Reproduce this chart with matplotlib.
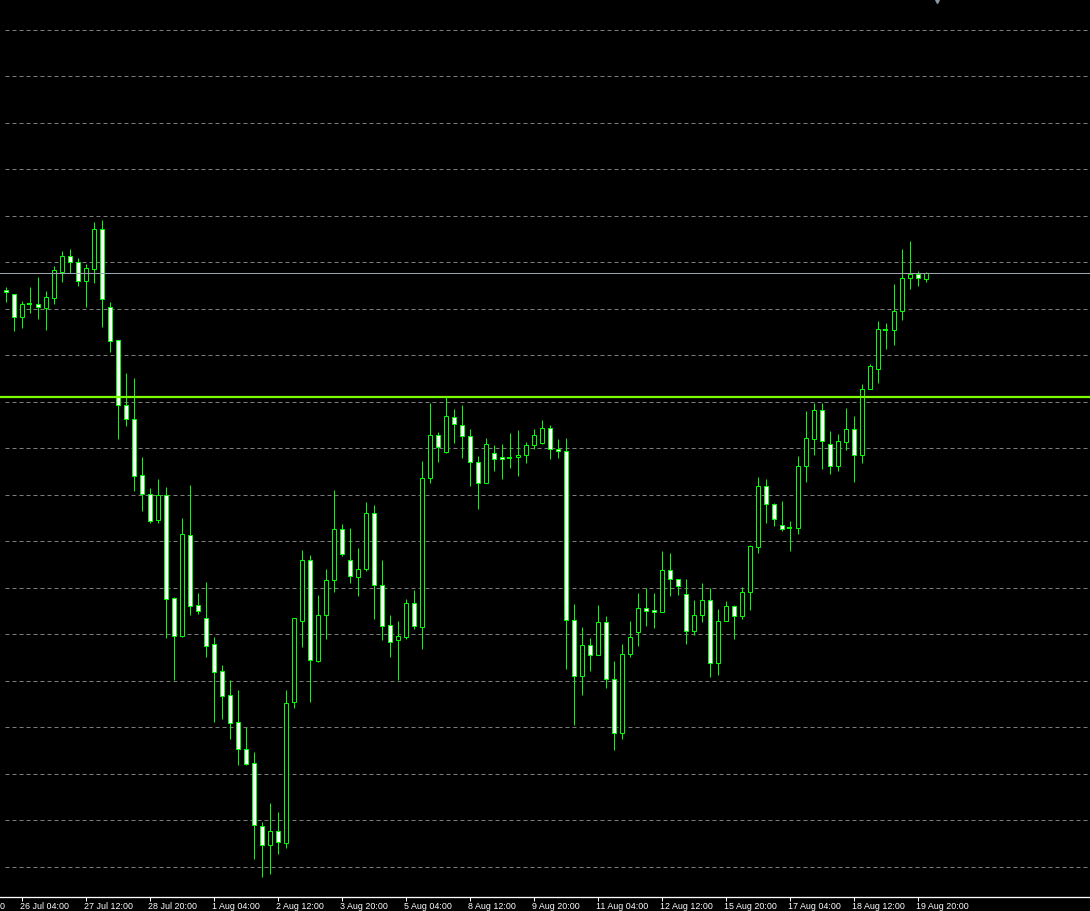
import numpy as np
import matplotlib
matplotlib.use("Agg")
import matplotlib.pyplot as plt
from matplotlib.patches import Rectangle
from matplotlib import transforms

# H4 bars, 22 Jul - 19 Aug, prices in chart units
opens = [710, 706, 683, 696, 696, 692, 702, 728, 744, 738, 719, 731, 771, 693, 660, 595, 581, 525, 506, 480,
         505, 402, 364, 465, 395, 382, 356, 329, 305, 278, 251, 237, 174, 155, 169, 157, 298, 379, 440, 339,
         385, 420, 471, 440, 423, 431, 487, 415, 375, 360, 363, 397, 373, 522, 565, 548, 583, 575, 564, 538,
         517, 547, 543, 542, 543, 545, 555, 557, 572, 551, 549, 380, 324, 355, 345, 378, 321, 267, 346, 368,
         392, 390, 388, 430, 421, 406, 369, 385, 400, 337, 379, 394, 384, 408, 453, 514, 496, 475, 472, 472,
         534, 561, 590, 556, 534, 558, 571, 545, 611, 631, 670, 670, 689, 722, 726, 721]
highs = [713, 706, 699, 713, 723, 709, 734, 749, 751, 742, 736, 778, 780, 698, 660, 627, 622, 543, 512, 521,
         513, 403, 482, 515, 407, 418, 363, 335, 320, 310, 273, 248, 178, 197, 188, 310, 382, 450, 445, 405,
         431, 510, 476, 472, 452, 498, 495, 440, 385, 379, 401, 410, 539, 597, 568, 603, 591, 595, 571, 544,
         562, 555, 556, 567, 570, 558, 571, 580, 575, 561, 562, 396, 373, 362, 395, 384, 339, 356, 379, 407,
         412, 407, 449, 447, 421, 421, 400, 417, 412, 391, 399, 395, 413, 455, 523, 521, 497, 499, 479, 544,
         589, 597, 597, 569, 566, 592, 584, 616, 636, 679, 677, 716, 751, 759, 729, 728]
lows = [698, 669, 672, 687, 681, 670, 696, 718, 727, 714, 693, 717, 673, 648, 561, 574, 509, 489, 477, 477,
        362, 320, 363, 385, 386, 343, 278, 281, 261, 235, 235, 141, 123, 126, 146, 152, 292, 353, 298, 338,
        361, 408, 444, 417, 404, 429, 381, 360, 343, 320, 361, 371, 351, 517, 538, 547, 557, 542, 514, 491,
        517, 529, 521, 532, 524, 537, 551, 556, 541, 542, 331, 275, 305, 329, 345, 312, 250, 261, 343, 354,
        374, 372, 388, 404, 405, 356, 365, 378, 323, 325, 379, 361, 381, 390, 447, 477, 474, 469, 449, 466,
        518, 545, 531, 526, 529, 550, 518, 537, 611, 617, 651, 655, 680, 711, 714, 718]
closes = [708, 683, 696, 696, 693, 703, 730, 744, 738, 719, 732, 771, 701, 659, 595, 581, 524, 506, 479, 505,
          401, 364, 466, 394, 389, 354, 328, 304, 277, 251, 236, 175, 155, 169, 158, 297, 382, 440, 340, 385,
          420, 471, 446, 424, 431, 487, 415, 374, 358, 364, 397, 374, 522, 565, 553, 584, 576, 564, 538, 517,
          556, 541, 541, 542, 545, 555, 565, 572, 551, 549, 380, 324, 355, 345, 378, 321, 267, 346, 363, 392,
          389, 388, 430, 421, 414, 369, 385, 400, 337, 379, 394, 384, 408, 454, 514, 496, 481, 471, 472, 534,
          562, 590, 559, 534, 559, 571, 545, 611, 634, 671, 670, 689, 722, 726, 722, 727]

level_price = 603  # horizontal level line
tick_bars = [-6, 2, 10, 18, 26, 34, 42, 50, 58, 66, 74, 82, 90, 98, 106, 114]
tick_labels = ["22 Jul 20:00", "26 Jul 04:00", "27 Jul 12:00", "28 Jul 20:00", "1 Aug 04:00",
               "2 Aug 12:00", "3 Aug 20:00", "5 Aug 04:00", "8 Aug 12:00", "9 Aug 20:00",
               "11 Aug 04:00", "12 Aug 12:00", "15 Aug 20:00", "17 Aug 04:00", "18 Aug 12:00",
               "19 Aug 20:00"]

W, H = 1090, 911
fig = plt.figure(figsize=(W / 100, H / 100), dpi=100, facecolor="black")
ax = fig.add_axes([0, 14 / H, 1, 897 / H])
ax.set_facecolor("black")
# 8 px per bar, bar centres on pixel centres
ax.set_xlim(-5.5 / 8, (W - 5.5) / 8)
ax.set_ylim(103, 1000)

px = 0.72  # one pixel in points
green = "#00ff00"

# grid
for g in np.arange(133, 971, 46.5):
    ax.plot([-0.05, 136], [g + 0.5, g + 0.5], color="#7c7c7c", lw=px, ls=(0, (4, 3)), zorder=1)

# candles
n = len(opens)
w = 0.5
for i in range(n):
    o, h, l, c = opens[i], highs[i], lows[i], closes[i]
    ax.plot([i, i], [l, h], color=green, lw=px, zorder=2, solid_capstyle="butt")
    if o == c:
        ax.plot([i - w / 2 - 0.0625, i + w / 2 + 0.0625], [o + 0.5, o + 0.5],
                color=green, lw=2 * px, zorder=3, solid_capstyle="butt")
    else:
        face = "black" if c > o else "white"
        ax.add_patch(Rectangle((i - w / 2, min(o, c) + 0.5), w, abs(c - o),
                               facecolor=face, edgecolor=green, lw=px, zorder=3))

# bid line and level line
ax.axhline(closes[-1] + 0.5, color="#9aa4ae", lw=px, zorder=4)
ax.axhline(level_price, color="#7cfc00", lw=1.6, zorder=5)

# chart shift marker
ax.plot([937 / W], [1.0], marker="v", color="#8899aa", ms=5, transform=ax.transAxes,
        clip_on=False, zorder=6)

for s in ["left", "right", "top"]:
    ax.spines[s].set_visible(False)
ax.spines["bottom"].set_color("white")
ax.spines["bottom"].set_linewidth(1.3 * px)
ax.set_yticks([])
ax.set_xticks([t for t in tick_bars if t >= 0])
ax.set_xticklabels([])
ax.tick_params(axis="x", colors="white", length=3, width=px, direction="out")

trans = transforms.blended_transform_factory(ax.transData, ax.transAxes)
off = transforms.ScaledTranslation(-1.5 / 100, -9.5 / 100, fig.dpi_scale_trans)
for t, lab in zip(tick_bars, tick_labels):
    ax.text(t, 0, lab, transform=trans + off, color="white", fontsize=6.4,
            family="Liberation Sans", ha="left", va="center", clip_on=False)

fig.savefig("out.png", dpi=100, facecolor="black")
